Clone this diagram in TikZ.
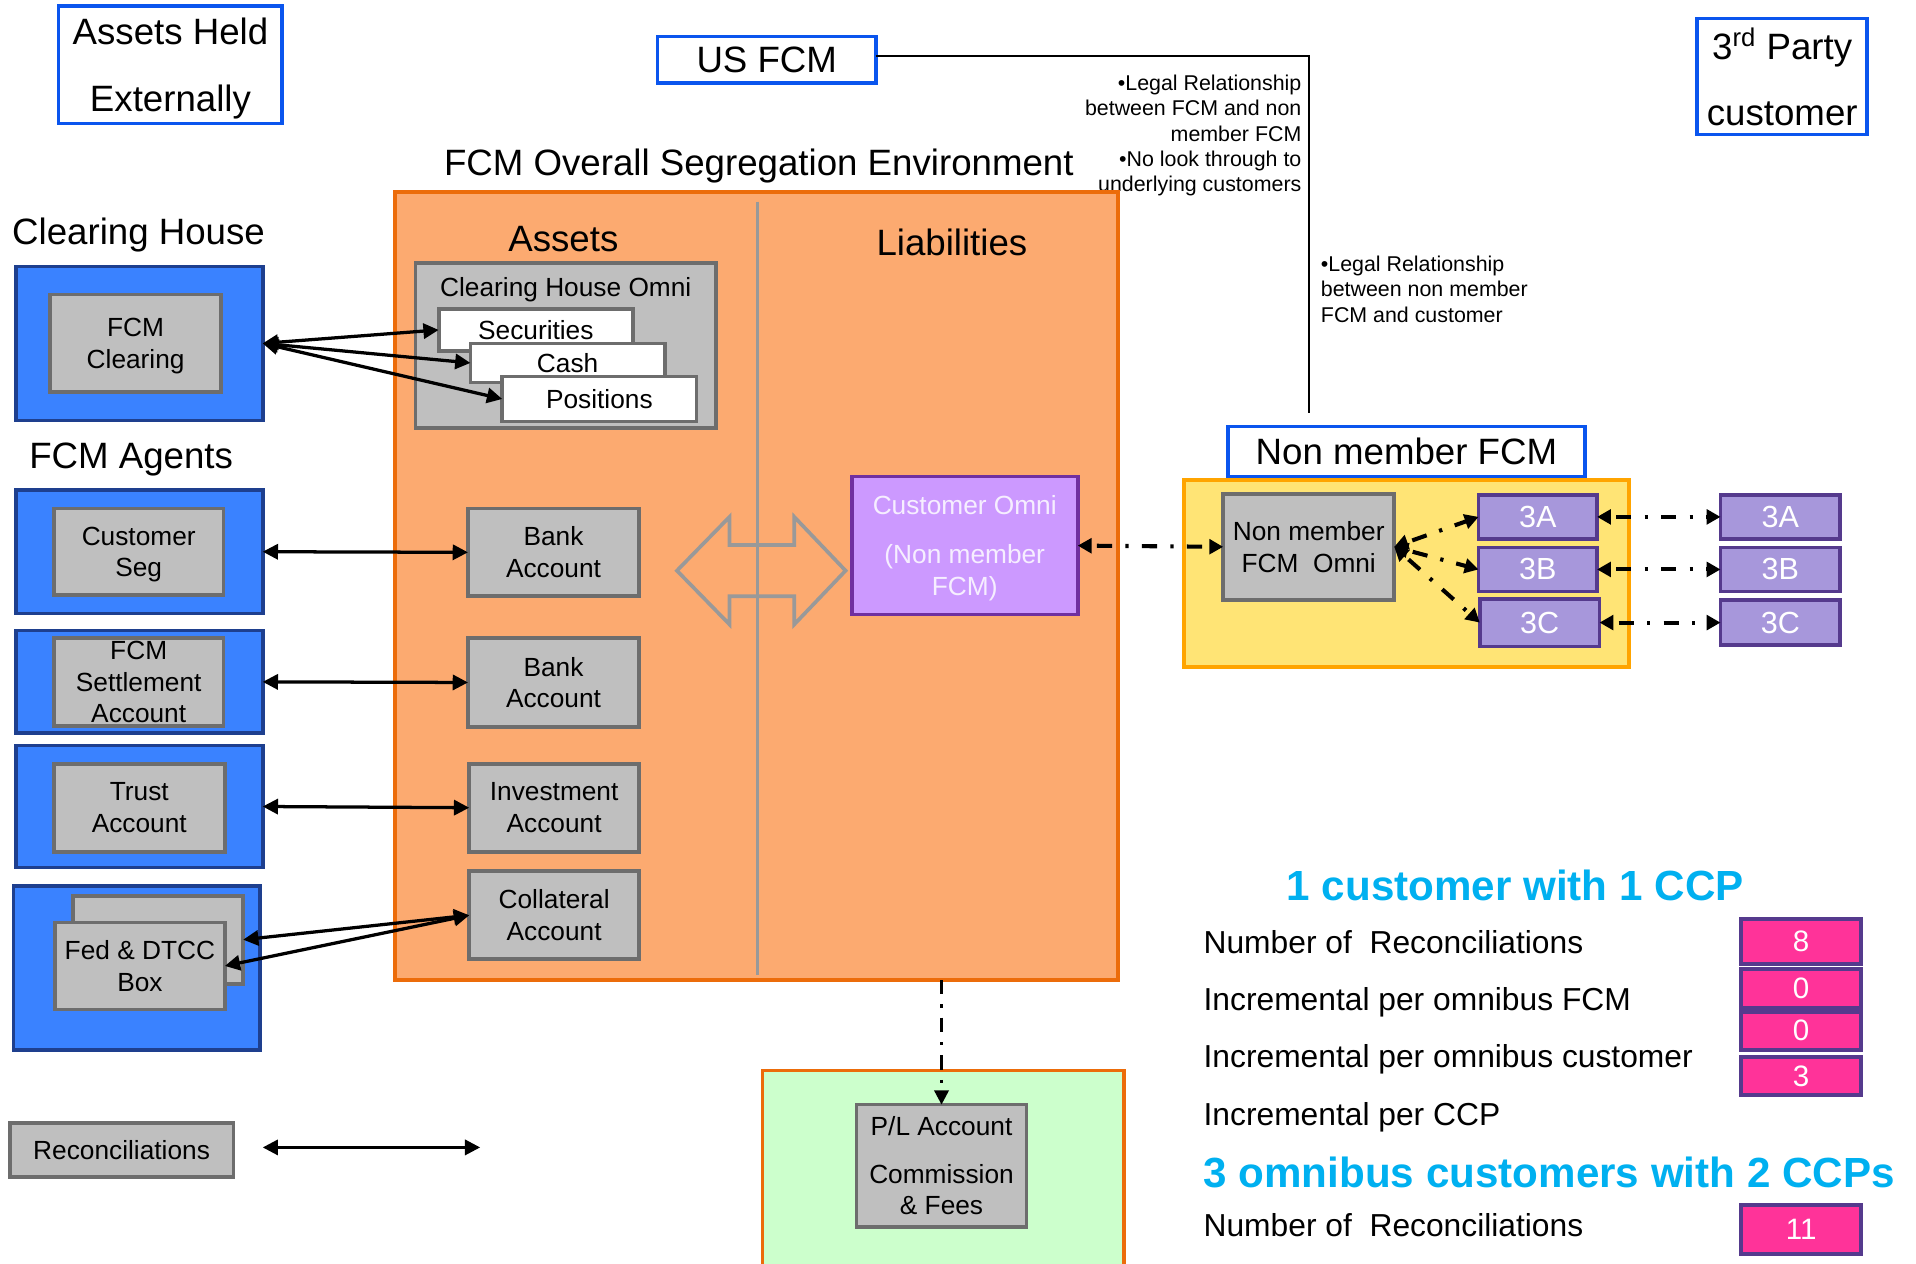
\documentclass[tikz,border=0pt]{standalone}
\usepackage{fontspec}
\setmainfont{Liberation Sans}
\usetikzlibrary{arrows.meta}

\definecolor{agentblue}{HTML}{3A82FF}
\definecolor{agentedge}{HTML}{1E3F8E}
\definecolor{tagblue}{HTML}{0A55EE}
\definecolor{boxgray}{HTML}{BFBFBF}
\definecolor{edgegray}{HTML}{6D6D6D}
\definecolor{segfill}{HTML}{FCAA70}
\definecolor{segedge}{HTML}{EC6C0A}
\definecolor{nmfill}{HTML}{FFE475}
\definecolor{nmedge}{HTML}{FFA400}
\definecolor{plfill}{HTML}{CCFFCC}
\definecolor{omnifill}{HTML}{CC99FF}
\definecolor{omniedge}{HTML}{7030A0}
\definecolor{omnitext}{HTML}{F6EEFF}
\definecolor{subfill}{HTML}{A797DB}
\definecolor{subedge}{HTML}{553A8D}
\definecolor{countfill}{HTML}{FF3399}
\definecolor{headcyan}{HTML}{00B0F0}
\definecolor{divgray}{HTML}{999999}

\newcommand{\setfs}[2]{\fontsize{#1}{#2}\selectfont}

\begin{document}
\begin{tikzpicture}[x=0.6pt, y=-0.6pt,
  every node/.style={inner sep=0pt, outer sep=0pt},
  corners/.style n args={4}{at={({(#1+#3)/2},{(#2+#4)/2})}, anchor=center,
    minimum width={(#3-#1)*0.6pt}, minimum height={(#4-#2)*0.6pt}},
  bluebox/.style={draw=agentedge, fill=agentblue, line width=1.8pt},
  graybox/.style={draw=edgegray, fill=boxgray, line width=1.8pt, align=center,
    text depth=0pt, font=\setfs{12.9}{15.6}},
  whitebox/.style={draw=edgegray, fill=white, line width=1.8pt, font=\setfs{12.9}{15.6}},
  tagbox/.style={draw=tagblue, fill=white, line width=1.8pt, align=center,
    text depth=0pt, font=\setfs{18}{33}},
  subbox/.style={draw=subedge, fill=subfill, line width=1.8pt, text=white,
    font=\setfs{15}{18}},
  countbox/.style={draw=subedge, fill=countfill, line width=1.8pt, text=white,
    font=\setfs{14.5}{17}},
  headtext/.style={anchor=base, font=\setfs{18}{21}},
  notetext/.style={font=\setfs{10.5}{12.4}},
  rowlabel/.style={anchor=base west, font=\setfs{15.6}{18}},
  cyanhead/.style={text=headcyan, font=\bfseries\setfs{20.7}{24}},
  arrboth/.style={line width=1.6pt,
    {Triangle[length=7.5pt,width=7.4pt]}-{Triangle[length=7.5pt,width=7.4pt]}},
  ddboth/.style={line width=2pt, dash pattern=on 7.5pt off 6.5pt on 1.6pt off 6.5pt,
    dash phase=-3pt,
    {Triangle[length=6.8pt,width=7.2pt]}-{Triangle[length=6.8pt,width=7.2pt]}},
  ddfwd/.style={line width=1.4pt, dash pattern=on 7pt off 5pt on 1.5pt off 5pt,
    -{Triangle[length=7pt,width=7pt]}},
  hollow/.style={draw=divgray, line width=1.8pt, line join=miter}
]
\useasboundingbox (0,0) rectangle (1568,1034);
\fill[white] (0,0) rectangle (1568,1034);

% ---- legend tags along the top
\node[tagbox, corners={48}{5}{231}{101}] (held) {Assets Held\\Externally};
\node[tagbox, corners={538}{30}{717}{68}] (usfcm) {US FCM};
\node[tagbox, corners={1389}{15}{1528}{110}, font=\setfs{18}{32.4}] (third)
  {3\textsuperscript{rd} Party\\customer};

% legal relationship line and notes
\coordinate (legalend) at (1071,338);
\draw[line width=0.9pt] ([yshift=1.8pt]usfcm.east) -| (legalend);
\node[notetext, anchor=north east, align=right] (legalnote) at (1065,61.5)
  {\textbullet Legal Relationship\\between FCM and non\\member FCM\\\textbullet No look through to\\underlying customers};
\node[notetext, anchor=north west, align=left] (custnote) at (1081,209.5)
  {\textbullet Legal Relationship\\between non member\\FCM and customer};

% ---- segregation environment
\node[headtext] (segtitle) at (621,144) {FCM Overall Segregation Environment};
\node[corners={323}{157}{915}{802}, draw=segedge, fill=segfill, line width=1.8pt] (seg) {};
\draw[divgray, line width=1.8pt] (620,165) -- (620,798);
\node[headtext] (assets) at (461,206) {Assets};
\node[headtext] (liab) at (779,209) {Liabilities};

\node[graybox, corners={340}{215}{586}{350}] (chomni) {};
\node[font=\setfs{12.9}{15.6}] (chomnitxt) at (463,237) {Clearing House Omni};
\node[whitebox, corners={359}{253}{518}{287}] (secs) {Securities};
\node[whitebox, corners={385}{281}{544}{313}] (cash) {Cash};
\node[whitebox, corners={411}{308}{570}{345}] (pos) {Positions};

\node[graybox, corners={383}{416}{523}{488}] (bank1) {Bank\\Account};
\node[graybox, corners={383}{522}{523}{595}] (bank2) {Bank\\Account};
\node[graybox, corners={384}{625}{523}{697}] (invest) {Investment\\Account};
\node[graybox, corners={384}{713}{523}{785}] (coll) {Collateral\\Account};

% hollow two-way arrow between assets and liabilities
\draw[hollow] (554,467) -- (597,423) -- (597,446) -- (650,446) -- (650,423)
  -- (692,467) -- (650,511) -- (650,488) -- (597,488) -- (597,511) -- cycle;

\node[corners={697}{390}{882}{503}, draw=omniedge, fill=omnifill, line width=1.8pt,
  text=omnitext, align=center, text depth=0pt, font=\setfs{12.9}{15.6}] (omni)
  {Customer Omni\\[8.4pt](Non member\\FCM)};

% ---- clearing house and FCM agents
\node[headtext, anchor=base west] (chtitle) at (10,200) {Clearing House};
\node[bluebox, corners={13}{218}{215}{344}] (chblue) {};
\node[graybox, corners={41}{241}{181}{321}] (fcmclr) {FCM\\Clearing};

\node[headtext, anchor=base west] (agtitle) at (24,383) {FCM Agents};
\node[bluebox, corners={13}{401}{215}{502}] (csblue) {};
\node[graybox, corners={44}{416}{183}{487}] (custseg) {Customer\\Seg};
\node[bluebox, corners={13}{516}{215}{600}] (stblue) {};
\node[graybox, corners={44}{522}{183}{594}] (settle) {FCM\\Settlement\\Account};
\node[bluebox, corners={13}{610}{215}{710}] (trblue) {};
\node[graybox, corners={44}{625}{184}{697}] (trust) {Trust\\Account};
\node[bluebox, corners={11}{725}{213}{859}] (fdblue) {};
\node[graybox, corners={60}{733}{199}{805}] (fedback) {};
\node[graybox, corners={45}{755}{184}{826}] (fedfront) {Fed \& DTCC\\Box};

\node[graybox, corners={8}{919}{191}{963}] (recon) {Reconciliations};
\coordinate (reconL) at (215,939);
\coordinate (reconR) at (393,939);

% ---- non member FCM
\node[tagbox, corners={1005}{349}{1297}{390}] (nmtag) {Non member FCM};
\node[corners={969}{393}{1333}{546}, draw=nmedge, fill=nmfill, line width=1.8pt] (nmenv) {};
\node[graybox, corners={1001}{404}{1141}{491}] (nmomni) {Non member\\FCM\ \ Omni};
\node[subbox, corners={1210}{405}{1307}{441}] (inA) {3A};
\node[subbox, corners={1210}{448}{1307}{484}] (inB) {3B};
\node[subbox, corners={1211}{490}{1309}{529}] (inC) {3C};
\node[subbox, corners={1408}{405}{1506}{441}] (outA) {3A};
\node[subbox, corners={1408}{448}{1506}{484}] (outB) {3B};
\node[subbox, corners={1408}{491}{1506}{528}] (outC) {3C};

% ---- P/L
\node[corners={624}{876}{920}{1037}, draw=segedge, fill=plfill, line width=1.8pt] (plenv) {};
\node[graybox, corners={701}{904}{840}{1004}] (pl) {P/L Account\\[7.8pt]Commission\\\& Fees};

% ---- reconciliation counts
\node[cyanhead, anchor=base] (headA) at (1240,737) {1 customer with 1 CCP};
\node[rowlabel] (rowA) at (985,780) {Number of\ \ Reconciliations};
\node[rowlabel] (rowB) at (985,827) {Incremental per omnibus FCM};
\node[rowlabel] (rowC) at (985,874) {Incremental per omnibus customer};
\node[rowlabel] (rowD) at (985,921) {Incremental per CCP};
\node[cyanhead, anchor=base west] (headB) at (985,972) {3 omnibus customers with 2 CCPs};
\node[rowlabel] (rowE) at (985,1012) {Number of\ \ Reconciliations};
\node[countbox, corners={1425}{752}{1523}{789}] (cntA) {8};
\node[countbox, corners={1425}{793}{1523}{825}] (cntB) {0};
\node[countbox, corners={1425}{828}{1523}{859}] (cntC) {0};
\node[countbox, corners={1425}{865}{1523}{896}] (cntD) {3};
\node[countbox, corners={1425}{986}{1523}{1026}] (cntE) {11};

% ---- connectors
\draw[arrboth] (chblue.east) -- (secs.west);
\draw[arrboth] (chblue.east) -- (cash.west);
\draw[arrboth] (chblue.east) -- (pos.west);
\draw[arrboth] (csblue.east) -- (bank1.west);
\draw[arrboth] (stblue.east) -- (bank2.west);
\draw[arrboth] (trblue.east) -- (invest.west);
\draw[arrboth] (coll.west) -- (fedback.east);
\draw[arrboth] (coll.west) -- (fedfront.east);
\draw[arrboth] (reconL) -- (reconR);

\draw[ddboth] (omni.east) -- (nmomni.west);
\draw[ddboth] (nmomni.east) -- (inA.west);
\draw[ddboth] (nmomni.east) -- (inB.west);
\draw[ddboth] (nmomni.east) -- (inC.west);
\draw[ddboth] (inA.east) -- (outA.west);
\draw[ddboth] (inB.east) -- (outB.west);
\draw[ddboth] (inC.east) -- (outC.west);
\draw[ddfwd] (seg.south -| pl.north) -- (pl.north);
\end{tikzpicture}
\end{document}
